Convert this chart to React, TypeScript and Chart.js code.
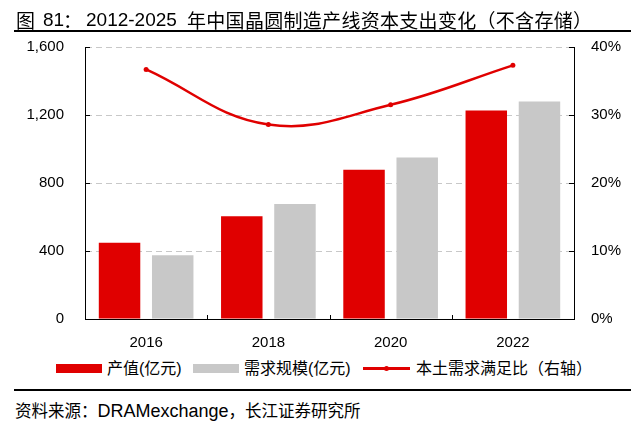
import React, { useEffect, useRef } from 'react';
import { Chart, registerables } from 'chart.js';

Chart.register(...registerables);

// ---- data ----
const categories = ['2016', '2018', '2020', '2022'];
const outputValues = [449, 604, 878, 1226]; // 产值(亿元)
const demandValues = [375, 676, 950, 1279]; // 需求规模(亿元)
const ratioValues = [36.7, 28.6, 31.5, 37.3]; // 本土需求满足比(%)
const leftTicks = [0, 400, 800, 1200, 1600];
const rightTicks = [0, 10, 20, 30, 40];

const RED = '#E00000';
const GRAY = '#C8C8C8';
const GRID = '#C8C8C8';
const LATIN = '"Liberation Sans", Arial, sans-serif';
const CJK = '"Noto Sans CJK SC", sans-serif';
const MIX = '"Liberation Sans", "Noto Sans CJK SC", sans-serif';

const inwardTicks = {
  id: 'inwardTicks',
  afterDraw(chart: any) {
    const { ctx, chartArea } = chart;
    const { left, right, bottom } = chartArea;
    const y = chart.scales.y;
    const y1 = chart.scales.y1;
    const x = chart.scales.x;
    ctx.save();
    ctx.strokeStyle = '#000';
    ctx.lineWidth = 1;
    ctx.beginPath();
    y.ticks.forEach((t: any) => {
      const py = Math.round(y.getPixelForValue(t.value)) + 0.5;
      ctx.moveTo(left, py);
      ctx.lineTo(left + 5, py);
    });
    y1.ticks.forEach((t: any) => {
      const py = Math.round(y1.getPixelForValue(t.value)) + 0.5;
      ctx.moveTo(right - 5, py);
      ctx.lineTo(right, py);
    });
    for (let i = 0; i < categories.length - 1; i++) {
      const px = Math.round((x.getPixelForValue(i) + x.getPixelForValue(i + 1)) / 2) + 0.5;
      ctx.moveTo(px, bottom);
      ctx.lineTo(px, bottom - 4);
    }
    ctx.stroke();
    ctx.restore();
  },
};

function ChartCanvas() {
  const ref = useRef<HTMLCanvasElement | null>(null);
  useEffect(() => {
    if (!ref.current) return;
    const chart = new Chart(ref.current, {
      type: 'bar',
      data: {
        labels: categories,
        datasets: [
          {
            type: 'line',
            label: '本土需求满足比（右轴）',
            data: ratioValues,
            yAxisID: 'y1',
            borderColor: RED,
            backgroundColor: RED,
            borderWidth: 2.5,
            pointRadius: 2.5,
            pointBackgroundColor: RED,
            pointBorderColor: RED,
            pointBorderWidth: 0,
            tension: 0.4,
            order: 0,
          } as any,
          {
            type: 'bar',
            label: '产值(亿元)',
            data: outputValues,
            yAxisID: 'y',
            backgroundColor: RED,
            categoryPercentage: 0.87,
            barPercentage: 0.78,
            order: 1,
          },
          {
            type: 'bar',
            label: '需求规模(亿元)',
            data: demandValues,
            yAxisID: 'y',
            backgroundColor: GRAY,
            categoryPercentage: 0.87,
            barPercentage: 0.78,
            order: 2,
          },
        ],
      },
      options: {
        animation: false,
        responsive: true,
        maintainAspectRatio: false,
        layout: { padding: { top: 10, left: 0, right: 0, bottom: 0 } },
        plugins: {
          legend: { display: false },
          tooltip: { enabled: false },
          title: { display: false },
        },
        scales: {
          x: {
            grid: { display: false },
            border: { display: true, color: '#000', width: 1 },
            ticks: { font: { family: LATIN, size: 15 }, color: '#000', padding: 7 },
            afterFit: (s: any) => {
              s.height = 36;
            },
          },
          y: {
            position: 'left',
            min: 0,
            max: 1600,
            afterBuildTicks: (s: any) => {
              s.ticks = leftTicks.map((v) => ({ value: v }));
            },
            grid: {
              color: (c: any) => (c.tick && c.tick.value === 0 ? 'rgba(0,0,0,0)' : GRID),
              lineWidth: 1,
              drawTicks: false,
            },
            border: { display: true, color: '#000', width: 1, dash: [6, 4] },
            ticks: {
              font: { family: LATIN, size: 15 },
              color: '#000',
              padding: 21,
              callback: (v: any) => Number(v).toLocaleString('en-US'),
            },
            afterFit: (s: any) => {
              s.width = 85;
            },
          },
          y1: {
            position: 'right',
            min: 0,
            max: 40,
            afterBuildTicks: (s: any) => {
              s.ticks = rightTicks.map((v) => ({ value: v }));
            },
            grid: { drawOnChartArea: false, drawTicks: false },
            border: { display: true, color: '#000', width: 1 },
            ticks: {
              font: { family: LATIN, size: 15 },
              color: '#000',
              padding: 17,
              callback: (v: any) => v + '%',
            },
            afterFit: (s: any) => {
              s.width = 66;
            },
          },
        },
      } as any,
      plugins: [inwardTicks],
    });
    return () => chart.destroy();
  }, []);
  return <canvas ref={ref} />;
}

const abs = (s: React.CSSProperties): React.CSSProperties => ({ position: 'absolute', ...s });

const titleRow: React.CSSProperties = {
  top: 7,
  height: 26,
  lineHeight: '26px',
  whiteSpace: 'nowrap',
  color: '#000',
};

export default function App() {
  return (
    <div style={abs({ left: 0, top: 0, width: 640, height: 435, background: '#fff', overflow: 'hidden' })}>
      <div style={abs({ left: 0, top: 17, width: 640, height: 338 })}>
        <ChartCanvas />
      </div>

      {/* title */}
      <span style={abs({ ...titleRow, left: 16, fontFamily: CJK, fontSize: 19 })}>图</span>
      <span style={abs({ ...titleRow, left: 43, fontFamily: LATIN, fontSize: 19 })}>81</span>
      <span style={abs({ ...titleRow, left: 63, fontFamily: CJK, fontSize: 19 })}>：</span>
      <span style={abs({ ...titleRow, left: 86, fontFamily: LATIN, fontSize: 19 })}>2012-2025</span>
      <span style={abs({ ...titleRow, left: 187, fontFamily: CJK, fontSize: 19, letterSpacing: 0.3 })}>
        年中国晶圆制造产线资本支出变化（不含存储）
      </span>
      <div style={abs({ left: 14, top: 30, width: 617, height: 2, background: '#000' })} />

      {/* legend */}
      <div style={abs({ left: 56, top: 364, width: 46, height: 9, background: RED })} />
      <div style={abs({ left: 107, top: 358, lineHeight: '22px', fontSize: 16, fontFamily: MIX, color: '#000', whiteSpace: 'nowrap' })}>
        产值(亿元)
      </div>
      <div style={abs({ left: 193, top: 364, width: 46, height: 9, background: GRAY })} />
      <div style={abs({ left: 244, top: 358, lineHeight: '22px', fontSize: 16, fontFamily: MIX, color: '#000', whiteSpace: 'nowrap' })}>
        需求规模(亿元)
      </div>
      <div style={abs({ left: 363, top: 367, width: 47, height: 2.5, background: RED })} />
      <div style={abs({ left: 383.5, top: 365.5, width: 5.5, height: 5.5, borderRadius: '50%', background: RED })} />
      <div style={abs({ left: 416, top: 358, lineHeight: '22px', fontSize: 16, fontFamily: MIX, color: '#000', whiteSpace: 'nowrap' })}>
        本土需求满足比（右轴）
      </div>

      <div style={abs({ left: 14, top: 389, width: 617, height: 2, background: '#000' })} />
      <div style={abs({ left: 15, top: 399, lineHeight: '22px', fontSize: 16.5, fontFamily: CJK, color: '#000', whiteSpace: 'nowrap' })}>
        <span>资料来源：</span>
        <span style={{ fontFamily: LATIN, fontSize: 18 }}>DRAMexchange</span>
        <span>，长江证券研究所</span>
      </div>
    </div>
  );
}
